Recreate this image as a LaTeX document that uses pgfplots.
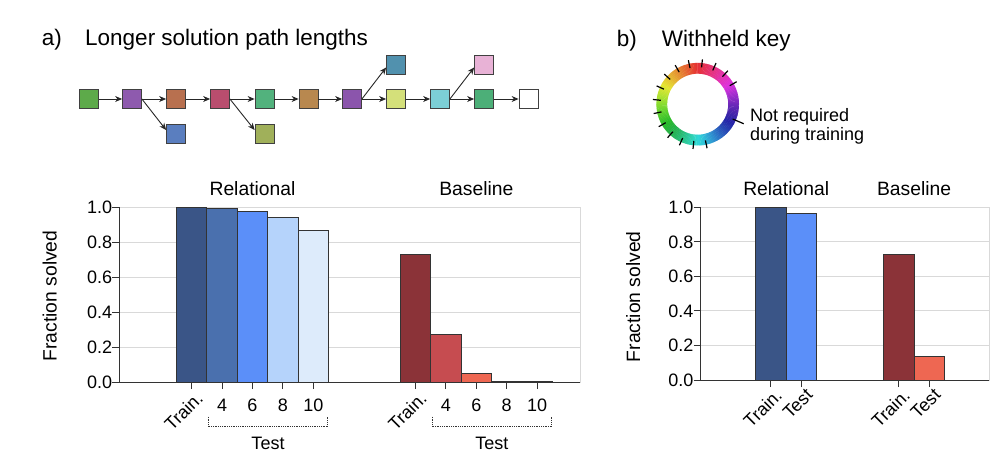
\documentclass[border=0pt]{standalone}
\usepackage{fontspec}
\setmainfont{Liberation Sans}
\usepackage{pgfplots}
\pgfplotsset{compat=1.18}
\usetikzlibrary{arrows.meta}

\definecolor{relA}{HTML}{3A5587}
\definecolor{relB}{HTML}{4A70AE}
\definecolor{relC}{HTML}{5B8FF9}
\definecolor{relD}{HTML}{B5D3FB}
\definecolor{relE}{HTML}{DDEBFB}
\definecolor{basA}{HTML}{8B3338}
\definecolor{basB}{HTML}{C64C50}
\definecolor{basC}{HTML}{EE6752}
\definecolor{edge}{HTML}{333333}
\definecolor{gridc}{HTML}{D9D9D9}

\newcommand{\tk}{\fontsize{18}{21}\selectfont}
\newcommand{\lb}{\fontsize{19.3}{22}\selectfont}
\newcommand{\ttl}{\fontsize{22.5}{26}\selectfont}
\newcommand{\sm}{\fontsize{18}{20}\selectfont}

\pgfplotsset{
  panel/.style={
    scale only axis, clip=false,
    ymin=0, ymax=1,
    ytick={0,0.2,0.4,0.6,0.8,1},
    yticklabels={0.0,0.2,0.4,0.6,0.8,1.0},
    xticklabels={,,},
    tick align=outside, major tick length=7pt, tick pos=left,
    tick style={draw=edge, line width=1pt},
    axis line style={draw=gridc, line width=1pt},
    ymajorgrids, major grid style={draw=gridc, line width=1pt},
    yticklabel style={font=\tk, inner sep=0pt},
  },
  bb/.style={ybar, bar width=1, draw=edge, line width=0.8pt, fill=#1},
}
\tikzset{
  num/.style={anchor=base, inner sep=0, font=\tk},
  rot/.style={rotate=45, anchor=east, inner sep=0, font=\tk},
}

\begin{document}
\begin{tikzpicture}[x=1pt,y=1pt]
\path[use as bounding box] (0,0) rectangle (1006,466);

% ---- titles
\node[anchor=base west, inner sep=0, font=\ttl] at (41.7,420) {a)};
\node[anchor=base west, inner sep=0, font=\ttl] at (85,420) {Longer solution path lengths};
\node[anchor=base west, inner sep=0, font=\ttl] at (616.7,419.3) {b)};
\node[anchor=base west, inner sep=0, font=\ttl] at (661.7,419.3) {Withheld key};

% ---- path diagram
\tikzset{sq/.style={draw=black!75, line width=0.8pt, minimum size=19pt, inner sep=0pt},
         arr/.style={draw=black!85, line width=0.9pt, -{Stealth[length=7pt,width=6pt]}}}
\node[sq, fill={rgb,255:red,93;green,170;blue,74}]   (s1)  at (88.8,367) {};
\node[sq, fill={rgb,255:red,142;green,90;blue,174}]  (s2)  at (132,367) {};
\node[sq, fill={rgb,255:red,184;green,112;blue,79}]  (s3)  at (176,367) {};
\node[sq, fill={rgb,255:red,185;green,77;blue,110}]  (s4)  at (220,367) {};
\node[sq, fill={rgb,255:red,82;green,178;blue,125}]  (s5)  at (264.5,367) {};
\node[sq, fill={rgb,255:red,184;green,136;blue,79}]  (s6)  at (308.5,367) {};
\node[sq, fill={rgb,255:red,139;green,85;blue,172}]  (s7)  at (352,367) {};
\node[sq, fill={rgb,255:red,212;green,224;blue,122}] (s8)  at (396,367) {};
\node[sq, fill={rgb,255:red,124;green,207;blue,214}] (s9)  at (440,367) {};
\node[sq, fill={rgb,255:red,76;green,175;blue,120}]  (s10) at (484,367) {};
\node[sq, fill=white]                                (s11) at (528.5,367) {};
\node[sq, fill={rgb,255:red,90;green,126;blue,191}]  (d1)  at (176,332) {};
\node[sq, fill={rgb,255:red,160;green,176;blue,90}]  (d2)  at (264.5,332) {};
\node[sq, fill={rgb,255:red,81;green,145;blue,174}]  (u1)  at (396,401.5) {};
\node[sq, fill={rgb,255:red,232;green,178;blue,214}] (u2)  at (484,401.5) {};
\foreach \a/\b in {s1/s2,s2/s3,s3/s4,s4/s5,s5/s6,s6/s7,s7/s8,s8/s9,s9/s10,s10/s11}
  \draw[arr] (\a.east) -- (\b.west);
\draw[arr] (s2.east) -- ([yshift=4pt]d1.west);
\draw[arr] (s4.east) -- ([yshift=4pt]d2.west);
\draw[arr] (s7.east) -- ([yshift=-3pt]u1.west);
\draw[arr] (s9.east) -- ([yshift=-3pt]u2.west);

% ---- colour ring
\begin{scope}[shift={(697.7,361.8)}]
  \foreach \a in {0,2,...,358}{
    \pgfmathsetmacro\h{mod(\a+270,360)}
    \pgfmathsetmacro\bv{0.9-0.24*exp(-((\h-245)/40)^2)-0.2*exp(-((\h-135)/35)^2)}
    \pgfmathsetmacro\e{\a+2.5}
    \definecolor{rc}{Hsb}{\h,0.78,\bv}
    \fill[rc] (\a:30.5) -- (\a:41.3) arc[start angle=\a, end angle=\e, radius=41.3]
      -- (\e:30.5) arc[start angle=\e, end angle=\a, radius=30.5] -- cycle;
  }
  \foreach \a in {30,48,...,282}
    \draw[black, line width=1.2pt] (\a:37) -- (\a:45);
  \draw[black, line width=1.2pt] (-23:38) -- (-23:50);
\end{scope}
\node[anchor=base west, inner sep=0, font=\sm] at (750,344.3) {Not required};
\node[anchor=base west, inner sep=0, font=\sm] at (750,325.3) {during training};

% ---- y labels
\node[rotate=90, anchor=base, inner sep=0, font=\lb] at (56.7,170) {Fraction solved};
\node[rotate=90, anchor=base, inner sep=0, font=\lb] at (640,169.3) {Fraction solved};

% ---- panel a
\begin{axis}[panel, at={(119.3pt,84pt)}, anchor=south west,
  width=460.7pt, height=174.7pt, xmin=-2.38, xmax=12.77,
  xtick={0,1,2,3,4,7.36,8.36,9.36,10.36,11.36}]
\addplot[bb=relA] coordinates {(0,1.000)};
\addplot[bb=relB] coordinates {(1,0.994)};
\addplot[bb=relC] coordinates {(2,0.977)};
\addplot[bb=relD] coordinates {(3,0.941)};
\addplot[bb=relE] coordinates {(4,0.866)};
\addplot[bb=basA] coordinates {(7.36,0.728)};
\addplot[bb=basB] coordinates {(8.36,0.275)};
\addplot[bb=basC] coordinates {(9.36,0.050)};
\addplot[bb=basC] coordinates {(10.36,0.003)};
\addplot[bb=basC] coordinates {(11.36,0.003)};
\draw[edge, line width=1pt] (rel axis cs:0,1) -- (rel axis cs:0,0) -- (rel axis cs:1,0);
\node[num] at ([yshift=-29.7pt]axis cs:1,0) {4};
\node[num] at ([yshift=-29.7pt]axis cs:2,0) {6};
\node[num] at ([yshift=-29.7pt]axis cs:3,0) {8};
\node[num] at ([yshift=-29.7pt]axis cs:4,0) {10};
\node[num] at ([yshift=-29.7pt]axis cs:8.36,0) {4};
\node[num] at ([yshift=-29.7pt]axis cs:9.36,0) {6};
\node[num] at ([yshift=-29.7pt]axis cs:10.36,0) {8};
\node[num] at ([yshift=-29.7pt]axis cs:11.36,0) {10};
\node[rot] at ([xshift=8pt,yshift=-13pt]axis cs:0,0) {Train.};
\node[rot] at ([xshift=8pt,yshift=-13pt]axis cs:7.36,0) {Train.};
\draw[edge, densely dotted, line width=0.8pt]
  ([yshift=-34.7pt]axis cs:0.55,0) -- ([yshift=-44.7pt]axis cs:0.55,0)
  -- ([yshift=-44.7pt]axis cs:4.47,0) -- ([yshift=-34.7pt]axis cs:4.47,0);
\draw[edge, densely dotted, line width=0.8pt]
  ([yshift=-34.7pt]axis cs:7.91,0) -- ([yshift=-44.7pt]axis cs:7.91,0)
  -- ([yshift=-44.7pt]axis cs:11.83,0) -- ([yshift=-34.7pt]axis cs:11.83,0);
\node[num] at ([yshift=-67pt]axis cs:2.51,0) {Test};
\node[num] at ([yshift=-67pt]axis cs:9.87,0) {Test};
\node[anchor=base, inner sep=0, font=\lb] at ([yshift=11.3pt]axis cs:2,1) {Relational};
\node[anchor=base, inner sep=0, font=\lb] at ([yshift=11.3pt]axis cs:9.36,1) {Baseline};
\end{axis}

% ---- panel b
\begin{axis}[panel, at={(700.5pt,86pt)}, anchor=south west,
  width=288.5pt, height=172.7pt, xmin=-2.30, xmax=7.13,
  xtick={0,1,4.18,5.18}]
\addplot[bb=relA] coordinates {(0,1.000)};
\addplot[bb=relC] coordinates {(1,0.965)};
\addplot[bb=basA] coordinates {(4.18,0.730)};
\addplot[bb=basC] coordinates {(5.18,0.135)};
\draw[edge, line width=1pt] (rel axis cs:0,1) -- (rel axis cs:0,0) -- (rel axis cs:1,0);
\node[rot] at ([xshift=8pt,yshift=-12pt]axis cs:0,0) {Train.};
\node[rot] at ([xshift=8pt,yshift=-12pt]axis cs:1,0) {Test};
\node[rot] at ([xshift=8pt,yshift=-12pt]axis cs:4.18,0) {Train.};
\node[rot] at ([xshift=8pt,yshift=-12pt]axis cs:5.18,0) {Test};
\node[anchor=base, inner sep=0, font=\lb] at ([yshift=11.3pt]axis cs:0.5,1) {Relational};
\node[anchor=base, inner sep=0, font=\lb] at ([yshift=11.3pt]axis cs:4.68,1) {Baseline};
\end{axis}
\end{tikzpicture}
\end{document}
